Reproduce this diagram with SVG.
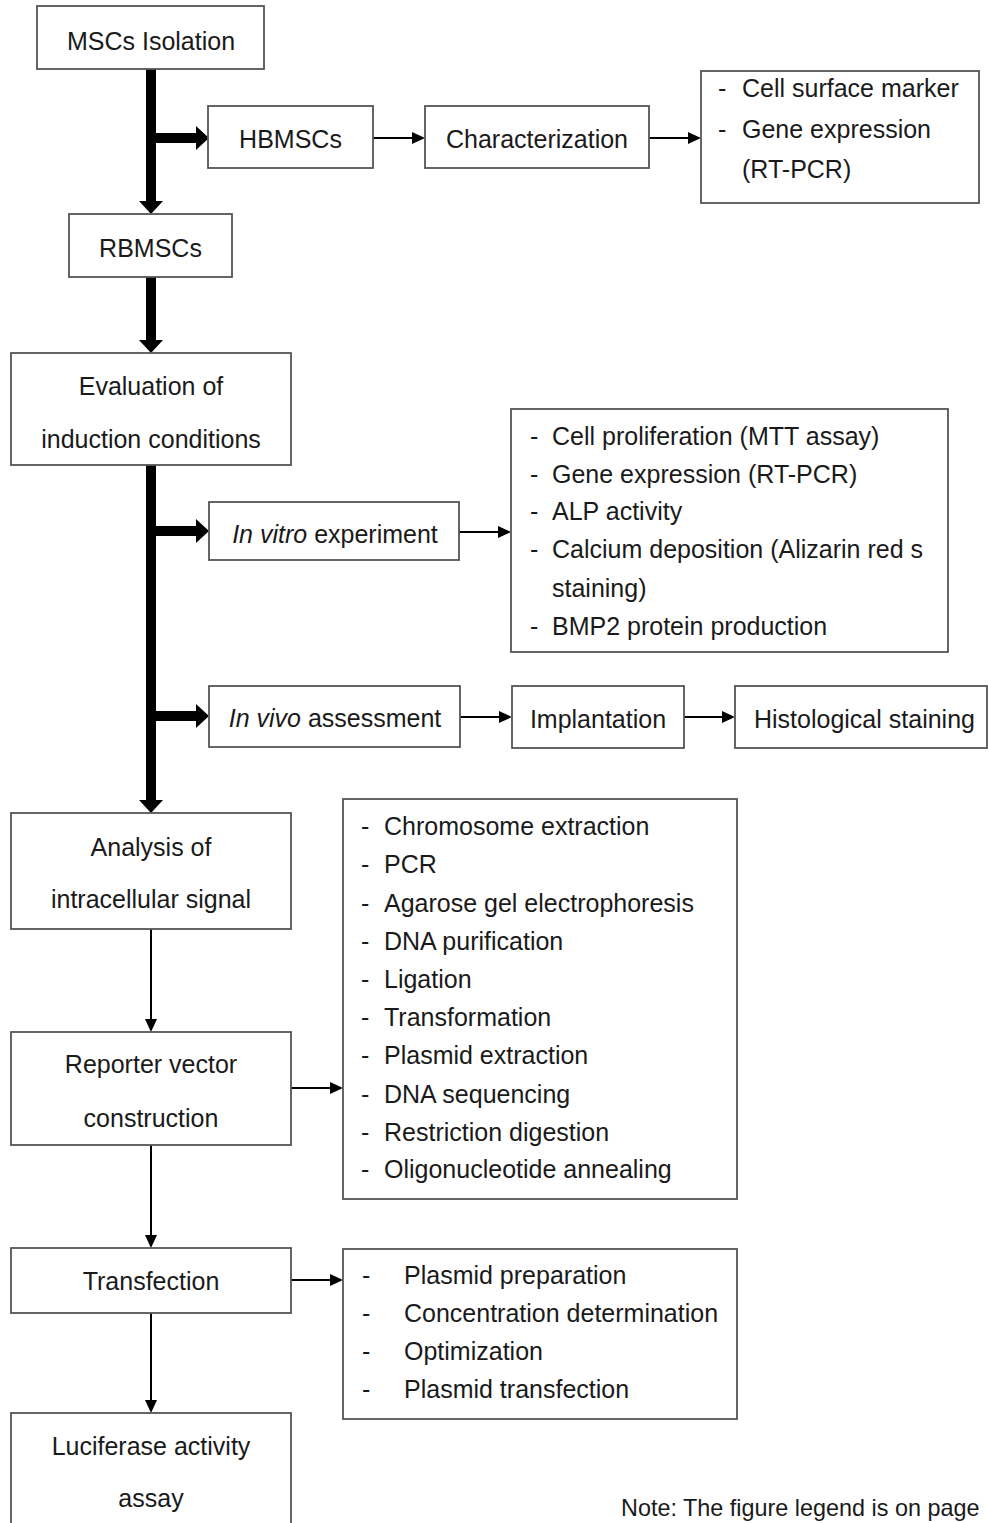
<svg xmlns="http://www.w3.org/2000/svg" width="988" height="1523" viewBox="0 0 988 1523">
<style>
.box{fill:#fff;stroke:#555;stroke-width:1.8}
text{font-family:"Liberation Sans",Arial,sans-serif;font-size:25px;fill:#1a1a1a}
.c{text-anchor:middle}
.thick{stroke:#000;stroke-width:10;fill:none}
.thin{stroke:#000;stroke-width:2;fill:none}
.note{font-size:23.4px}
</style>
<defs>
<marker id="ah" markerUnits="userSpaceOnUse" viewBox="0 0 13 24" refX="0" refY="12" markerWidth="13" markerHeight="24" orient="auto">
<path d="M0,0 L13,12 L0,24 z" fill="#000"/>
</marker>
<marker id="at" markerUnits="userSpaceOnUse" viewBox="0 0 13 12" refX="0" refY="6" markerWidth="13" markerHeight="12" orient="auto">
<path d="M0,0 L13,6 L0,12 z" fill="#000"/>
</marker>
</defs>
<rect width="988" height="1523" fill="#fff"/>
<g id="connectors">
<line class="thick" x1="151" y1="69" x2="151" y2="201" marker-end="url(#ah)"/>
<line class="thick" x1="151" y1="138" x2="196" y2="138" marker-end="url(#ah)"/>
<line class="thick" x1="151" y1="277" x2="151" y2="340" marker-end="url(#ah)"/>
<line class="thick" x1="151" y1="465" x2="151" y2="800" marker-end="url(#ah)"/>
<line class="thick" x1="151" y1="531" x2="196" y2="531" marker-end="url(#ah)"/>
<line class="thick" x1="151" y1="716" x2="196" y2="716" marker-end="url(#ah)"/>
<line class="thin" x1="373" y1="138" x2="412" y2="138" marker-end="url(#at)"/>
<line class="thin" x1="649" y1="138" x2="688" y2="138" marker-end="url(#at)"/>
<line class="thin" x1="459" y1="532" x2="498" y2="532" marker-end="url(#at)"/>
<line class="thin" x1="460" y1="717" x2="499" y2="717" marker-end="url(#at)"/>
<line class="thin" x1="684" y1="717" x2="722" y2="717" marker-end="url(#at)"/>
<line class="thin" x1="291" y1="1088" x2="330" y2="1088" marker-end="url(#at)"/>
<line class="thin" x1="291" y1="1280" x2="330" y2="1280" marker-end="url(#at)"/>
<line class="thin" x1="151" y1="929" x2="151" y2="1019" marker-end="url(#at)"/>
<line class="thin" x1="151" y1="1145" x2="151" y2="1235" marker-end="url(#at)"/>
<line class="thin" x1="151" y1="1313" x2="151" y2="1400" marker-end="url(#at)"/>
</g>
<g id="msc-isolation">
<rect class="box" x="37" y="6" width="227" height="63"/>
<text class="c" x="151" y="50">MSCs Isolation</text>
</g>
<g id="hbmscs">
<rect class="box" x="208" y="106" width="165" height="62"/>
<text class="c" x="290.5" y="148">HBMSCs</text>
</g>
<g id="characterization">
<rect class="box" x="425" y="106" width="224" height="62"/>
<text class="c" x="537" y="148">Characterization</text>
</g>
<g id="char-list">
<rect class="box" x="701" y="71" width="278" height="132"/>
<text x="718" y="97">-</text><text x="742" y="97">Cell surface marker</text>
<text x="718" y="138">-</text><text x="742" y="138">Gene expression</text>
<text x="742" y="178">(RT-PCR)</text>
</g>
<g id="rbmscs">
<rect class="box" x="69" y="214" width="163" height="63"/>
<text class="c" x="150.5" y="257">RBMSCs</text>
</g>
<g id="evaluation">
<rect class="box" x="11" y="353" width="280" height="112"/>
<text class="c" x="151" y="395">Evaluation of</text>
<text class="c" x="151" y="448">induction conditions</text>
</g>
<g id="in-vitro">
<rect class="box" x="209" y="502" width="250" height="58"/>
<text class="c" x="335" y="543"><tspan font-style="italic">In vitro</tspan> experiment</text>
</g>
<g id="vitro-list">
<rect class="box" x="511" y="409" width="437" height="243"/>
<text x="530" y="445">-</text><text x="552" y="445">Cell proliferation (MTT assay)</text>
<text x="530" y="483">-</text><text x="552" y="483">Gene expression (RT-PCR)</text>
<text x="530" y="520">-</text><text x="552" y="520">ALP activity</text>
<text x="530" y="558">-</text><text x="552" y="558">Calcium deposition (Alizarin red s</text>
<text x="552" y="597">staining)</text>
<text x="530" y="635">-</text><text x="552" y="635">BMP2 protein production</text>
</g>
<g id="in-vivo">
<rect class="box" x="209" y="686" width="251" height="61"/>
<text class="c" x="335" y="727"><tspan font-style="italic">In vivo</tspan> assessment</text>
</g>
<g id="implantation">
<rect class="box" x="512" y="686" width="172" height="62"/>
<text class="c" x="598" y="728">Implantation</text>
</g>
<g id="histological">
<rect class="box" x="735" y="686" width="252" height="62"/>
<text x="754" y="728">Histological staining</text>
</g>
<g id="analysis">
<rect class="box" x="11" y="813" width="280" height="116"/>
<text class="c" x="151" y="856">Analysis of</text>
<text class="c" x="151" y="908">intracellular signal</text>
</g>
<g id="construction-list">
<rect class="box" x="343" y="799" width="394" height="400"/>
<text x="361" y="835">-</text><text x="384" y="835">Chromosome extraction</text>
<text x="361" y="873">-</text><text x="384" y="873">PCR</text>
<text x="361" y="912">-</text><text x="384" y="912">Agarose gel electrophoresis</text>
<text x="361" y="950">-</text><text x="384" y="950">DNA purification</text>
<text x="361" y="988">-</text><text x="384" y="988">Ligation</text>
<text x="361" y="1026">-</text><text x="384" y="1026">Transformation</text>
<text x="361" y="1064">-</text><text x="384" y="1064">Plasmid extraction</text>
<text x="361" y="1103">-</text><text x="384" y="1103">DNA sequencing</text>
<text x="361" y="1141">-</text><text x="384" y="1141">Restriction digestion</text>
<text x="361" y="1178">-</text><text x="384" y="1178">Oligonucleotide annealing</text>
</g>
<g id="reporter">
<rect class="box" x="11" y="1032" width="280" height="113"/>
<text class="c" x="151" y="1073">Reporter vector</text>
<text class="c" x="151" y="1127">construction</text>
</g>
<g id="transfection">
<rect class="box" x="11" y="1248" width="280" height="65"/>
<text class="c" x="151" y="1290">Transfection</text>
</g>
<g id="transfection-list">
<rect class="box" x="343" y="1249" width="394" height="170"/>
<text x="362" y="1284">-</text><text x="404" y="1284">Plasmid preparation</text>
<text x="362" y="1322">-</text><text x="404" y="1322">Concentration determination</text>
<text x="362" y="1360">-</text><text x="404" y="1360">Optimization</text>
<text x="362" y="1398">-</text><text x="404" y="1398">Plasmid transfection</text>
</g>
<g id="luciferase">
<rect class="box" x="11" y="1413" width="280" height="125"/>
<text class="c" x="151" y="1455">Luciferase activity</text>
<text class="c" x="151" y="1507">assay</text>
</g>
<g id="note">
<text class="note" x="621" y="1516">Note: The figure legend is on page</text>
</g>
</svg>
